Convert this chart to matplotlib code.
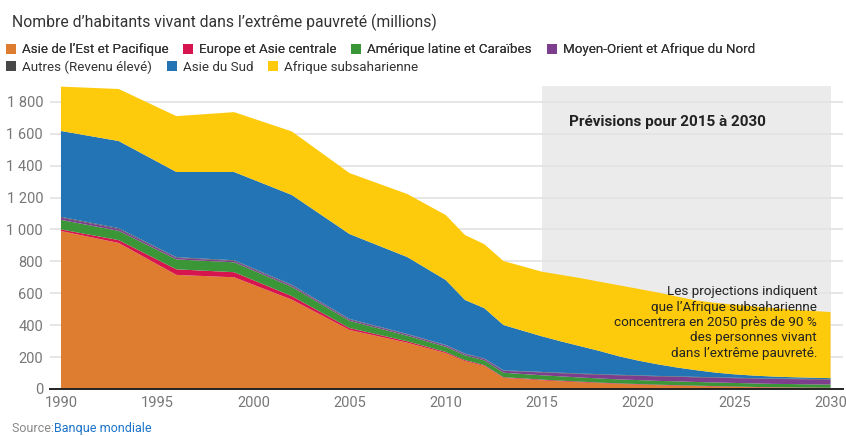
import matplotlib.pyplot as plt
import matplotlib.ticker as mticker

plt.rcParams['font.family'] = ['Roboto', 'DejaVu Sans']

# Data (millions of people)
years = [1990, 1993, 1996, 1999, 2002, 2005, 2008, 2010, 2011, 2012, 2013,
         2015, 2016, 2017, 2018, 2019, 2020, 2021, 2022, 2023, 2024, 2025,
         2026, 2027, 2028, 2029, 2030]
east_asia = [990, 915, 715, 700, 560, 370, 290, 225, 175, 145, 70,
             55, 48, 42, 37, 32, 28, 24, 21, 18, 15, 13, 11, 9, 8, 7, 6]
europe_ca = [10, 18, 35, 32, 22, 12, 9, 7, 6, 5, 4,
             4, 4, 4, 3, 3, 3, 3, 3, 3, 3, 3, 2, 2, 2, 2, 2]
latin_am = [60, 58, 62, 62, 58, 45, 35, 33, 30, 30, 28,
            27, 27, 26, 26, 25, 25, 24, 24, 23, 23, 22, 22, 21, 21, 20, 20]
mena = [14, 12, 10, 9, 9, 8, 8, 8, 8, 9, 12,
        18, 20, 22, 24, 26, 27, 28, 29, 29, 30, 30, 30, 31, 31, 31, 31]
others = [5, 5, 4, 4, 4, 4, 3, 3, 3, 3, 3,
          3, 3, 3, 3, 3, 3, 3, 3, 3, 3, 3, 3, 3, 3, 3, 3]
south_asia = [538, 546, 534, 553, 563, 532, 482, 407, 336, 315, 284,
              223, 196, 171, 145, 116, 92, 73, 55, 42, 29, 21, 16, 12, 9, 8, 6]
ssa = [278, 326, 350, 375, 398, 382, 395, 407, 407, 401, 401,
       405, 417, 427, 434, 445, 450, 450, 445, 437, 437, 436, 434, 430, 424, 419, 414]

labels = ["Asie de l\u2019Est et Pacifique", "Europe et Asie centrale",
          "Amérique latine et Caraïbes", "Moyen-Orient et Afrique du Nord",
          "Autres (Revenu élevé)", "Asie du Sud", "Afrique subsaharienne"]
colors = ["#DE7C2F", "#D6154E", "#3B9638", "#7E3E8E", "#474747", "#2274B4", "#FDCA0C"]

fig = plt.figure(figsize=(8.46, 4.36), dpi=100)
ax = fig.add_axes([0.0591, 0.1078, 0.9374, 0.6954])

# forecast shading + grid
ax.axvspan(2015, 2030, color="#ebebeb", zorder=0, lw=0)
ax.yaxis.grid(True, color="#e4e4e4", lw=1.3, zorder=0.5)
ax.set_axisbelow(True)

ax.stackplot(years, east_asia, europe_ca, latin_am, mena, others, south_asia, ssa,
             colors=colors, labels=labels, zorder=2, lw=0)

ax.set_xlim(1989.43, 2030.65)
ax.set_ylim(0, 1900)
ax.set_xticks(range(1990, 2031, 5))
ax.set_yticks(range(0, 1801, 200))
ax.yaxis.set_major_formatter(mticker.FuncFormatter(
    lambda v, p: f"{int(v):,}".replace(",", " ")))
ax.tick_params(axis="both", length=0, labelsize=10.5, colors="#777777")
ax.tick_params(axis="y", pad=5)
ax.tick_params(axis="x", pad=5)
for s in ["top", "right", "left"]:
    ax.spines[s].set_visible(False)
ax.spines["bottom"].set_color("#222222")
ax.spines["bottom"].set_linewidth(1.4)
ax.spines["bottom"].set_zorder(3)

# texts
ax.text(2016.4, 1673, "Prévisions pour 2015 à 2030", fontsize=11,
        fontweight="bold", color="#222222", va="center", zorder=4)
ax.text(2029.3, 650, "Les projections indiquent\nque l\u2019Afrique subsaharienne\n"
        "concentrera en 2050 près de 90 %\ndes personnes vivant\n"
        "dans l\u2019extrême pauvreté.", fontsize=9.7, color="#222222",
        ha="right", va="top", linespacing=1.24, zorder=4)

fig.text(12 / 846, 1 - 22 / 436, "Nombre d\u2019habitants vivant dans l\u2019extrême pauvreté (millions)",
         fontsize=11.3, color="#333333", va="center")

# legend (two rows, manual layout)
handles, lbls = ax.get_legend_handles_labels()
leg1 = fig.legend(handles[:4], lbls[:4], loc="center left",
                  bbox_to_anchor=(2 / 846, 1 - 50 / 436), ncol=4, frameon=False,
                  fontsize=9.6, handlelength=0.75, handleheight=0.75,
                  handletextpad=0.45, columnspacing=1.1, borderaxespad=0, borderpad=0.3)
for t in leg1.get_texts():
    t.set_color("#333333")
leg2 = fig.legend(handles[4:], lbls[4:], loc="center left",
                  bbox_to_anchor=(2 / 846, 1 - 67 / 436), ncol=3, frameon=False,
                  fontsize=9.6, handlelength=0.75, handleheight=0.75,
                  handletextpad=0.45, columnspacing=1.1, borderaxespad=0, borderpad=0.3)
for t in leg2.get_texts():
    t.set_color("#333333")
fig.add_artist(leg1)

fig.text(12 / 846, 1 - 428 / 436, "Source: ", fontsize=9, color="#888888", va="center")
fig.text(54 / 846, 1 - 428 / 436, "Banque mondiale", fontsize=9, color="#1a73c8", va="center")

fig.savefig("out.png", dpi=100)
